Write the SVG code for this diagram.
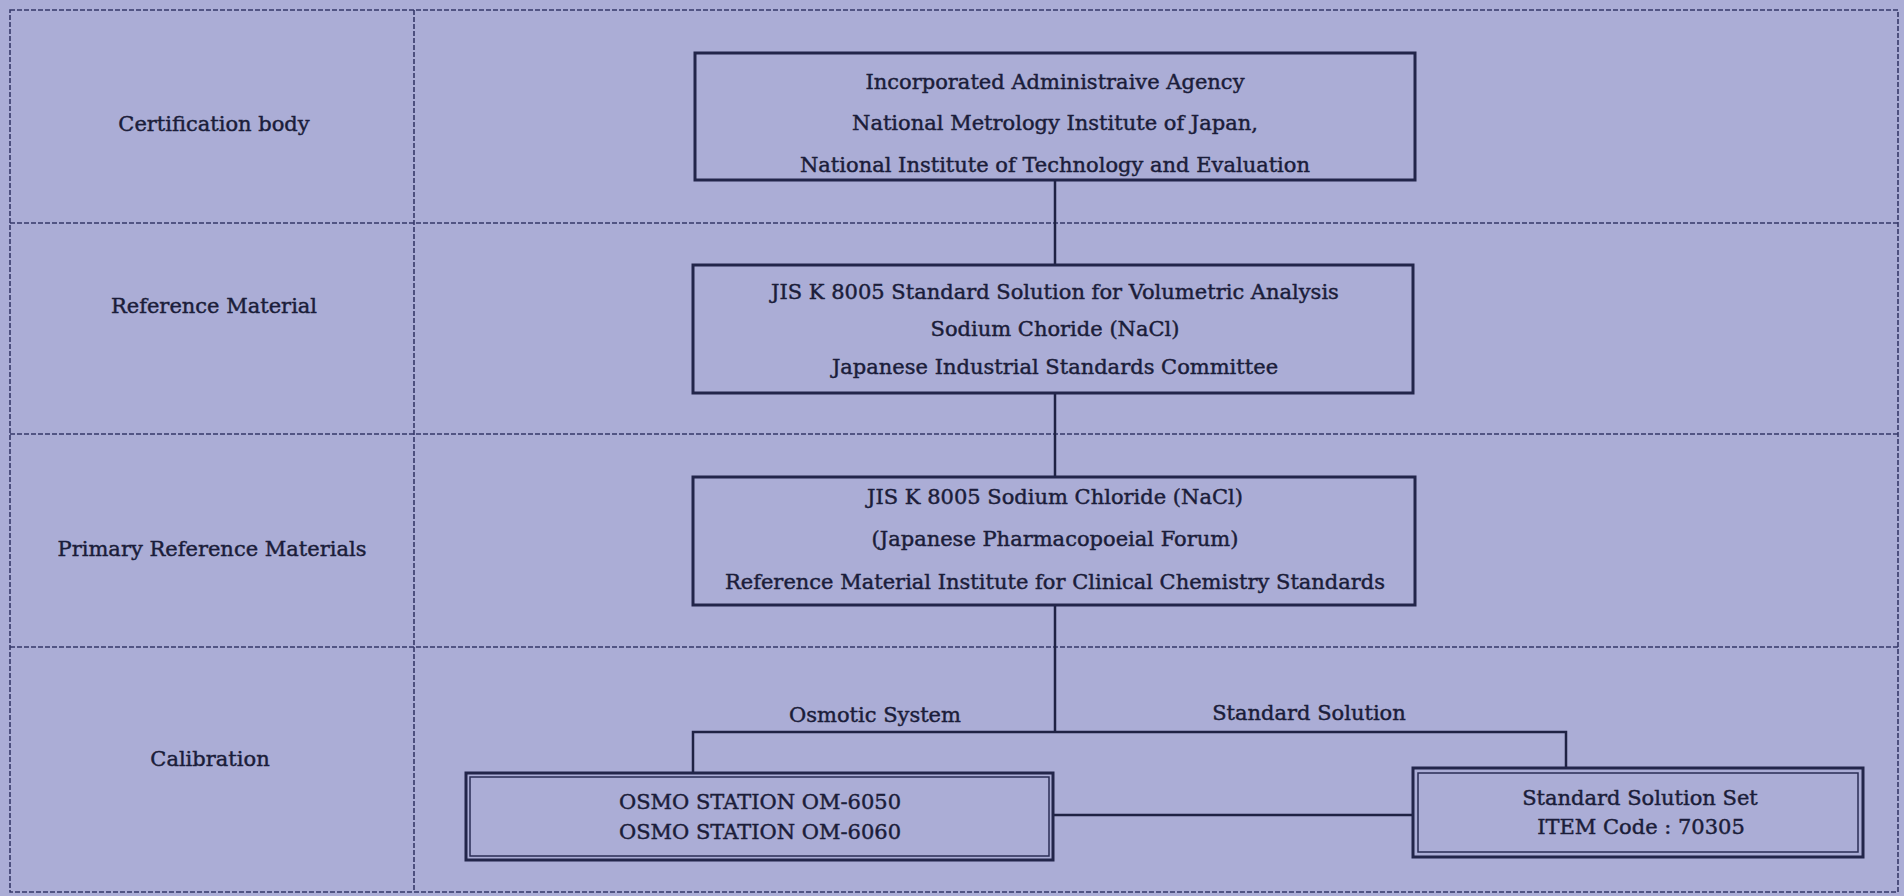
<svg xmlns="http://www.w3.org/2000/svg" width="1904" height="896" viewBox="0 0 1904 896">
<style>
.bg{fill:#abadd6}
.grid{stroke:#363969;stroke-width:1.6;stroke-dasharray:5 2;fill:none}
.box{fill:none;stroke:#22254a;stroke-width:3}
.inner{fill:none;stroke:#2a2d55;stroke-width:1.5}
.con{stroke:#1f2244;stroke-width:2.5;fill:none}
text{font-family:"DejaVu Serif","Liberation Serif",serif;font-size:21px;fill:#1b1d3a;stroke:#1b1d3a;stroke-width:0.45;text-anchor:middle}
</style>
<rect class="bg" x="0" y="0" width="1904" height="896"/>
<g id="grid">
<rect class="grid" x="10" y="10" width="1888" height="882"/>
<line class="grid" x1="414" y1="10" x2="414" y2="892"/>
<line class="grid" x1="10" y1="223" x2="1898" y2="223"/>
<line class="grid" x1="10" y1="434" x2="1898" y2="434"/>
<line class="grid" x1="10" y1="647" x2="1898" y2="647"/>
</g>
<g id="row-labels">
<text x="214" y="131">Certification body</text>
<text x="214" y="313">Reference Material</text>
<text x="212" y="556">Primary Reference Materials</text>
<text x="210" y="766">Calibration</text>
</g>
<g id="connectors">
<line class="con" x1="1055" y1="180" x2="1055" y2="265"/>
<line class="con" x1="1055" y1="393" x2="1055" y2="477"/>
<line class="con" x1="1055" y1="605" x2="1055" y2="732"/>
<polyline class="con" points="693,773 693,732 1566,732 1566,768"/>
<line class="con" x1="1053" y1="815" x2="1413" y2="815"/>
<text x="875" y="722">Osmotic System</text>
<text x="1309" y="720">Standard Solution</text>
</g>
<g id="certification-body">
<rect class="box" x="695" y="53" width="720" height="127"/>
<text x="1055" y="89">Incorporated Administraive Agency</text>
<text x="1055" y="130">National Metrology Institute of Japan,</text>
<text x="1055" y="172">National Institute of Technology and Evaluation</text>
</g>
<g id="reference-material">
<rect class="box" x="693" y="265" width="720" height="128"/>
<text x="1055" y="299">JIS K 8005 Standard Solution for Volumetric Analysis</text>
<text x="1055" y="336">Sodium Choride (NaCl)</text>
<text x="1055" y="374">Japanese Industrial Standards Committee</text>
</g>
<g id="primary-reference">
<rect class="box" x="693" y="477" width="722" height="128"/>
<text x="1055" y="504">JIS K 8005 Sodium Chloride (NaCl)</text>
<text x="1055" y="546">(Japanese Pharmacopoeial Forum)</text>
<text x="1055" y="589">Reference Material Institute for Clinical Chemistry Standards</text>
</g>
<g id="osmo-station">
<rect class="box" x="466" y="773" width="587" height="87"/>
<rect class="inner" x="470" y="777" width="579" height="79"/>
<text x="760" y="809">OSMO STATION OM-6050</text>
<text x="760" y="839">OSMO STATION OM-6060</text>
</g>
<g id="standard-solution-set">
<rect class="box" x="1413" y="768" width="450" height="89"/>
<rect class="inner" x="1418" y="773" width="440" height="79"/>
<text x="1640" y="805">Standard Solution Set</text>
<text x="1641" y="834">ITEM Code : 70305</text>
</g>
</svg>
